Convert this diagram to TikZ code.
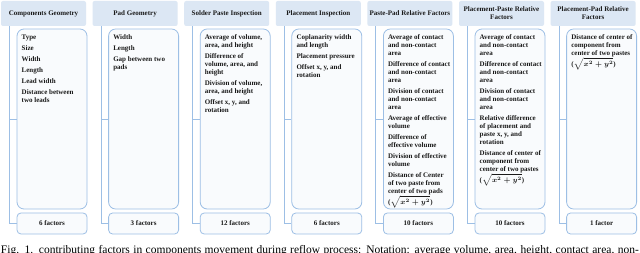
\documentclass[tikz,border=0pt]{standalone}
\usepackage{fontspec}
\setmainfont{Liberation Serif}
\definecolor{hdrfill}{HTML}{DCE7F4}
\definecolor{linec}{HTML}{9DBFE5}
\definecolor{boxfill}{HTML}{F9FBFD}
\definecolor{txt}{HTML}{1A1A1A}
\newcommand\mycol[5]{%
  \node[hdr] (h#1) at (#2+42.5,13.5) {#3};
  \node[cbox] (c#1) at (#2+51,119) {};
  \node[fbox] (f#1) at (#2+51,223.5) {#5};
  \node[ctext] (t#1) at (#2+20.5,33.8) {\rule{0pt}{5.5pt}#4};
  \draw[conn] ([xshift=8.5pt]h#1.south west) |- (c#1.west);
  \draw[conn] ([xshift=8.5pt]h#1.south west) |- (f#1.west);
}
\begin{document}
\begin{tikzpicture}[x=1pt,y=-1pt,
  hdr/.style={fill=hdrfill,rounded corners=2pt,minimum width=85pt,minimum height=25pt,inner sep=0pt,
    align=center,text=txt,font=\fontsize{7}{8}\selectfont\bfseries},
  cbox/.style={draw=linec,fill=boxfill,line width=0.8pt,rounded corners=7pt,minimum width=70pt,minimum height=180pt,inner sep=0pt},
  fbox/.style={draw=linec,fill=boxfill,line width=0.8pt,rounded corners=4pt,minimum width=70pt,minimum height=21pt,inner sep=0pt,
    text=txt,font=\fontsize{7}{8}\selectfont\bfseries},
  ctext/.style={anchor=north west,inner sep=0pt,align=left,text=txt,font=\fontsize{7}{8}\selectfont\bfseries},
  conn/.style={draw=linec,line width=0.8pt},
  capt/.style={anchor=base,inner sep=0pt,font=\fontsize{11.5}{13}\selectfont}
]
\useasboundingbox (0,0) rectangle (640,253);
\fill[white] (0,0) rectangle (640,253);
\mycol{1}{1}{Components Geometry}{Type\\[3pt]Size\\[3pt]Width\\[3pt]Length\\[3pt]Lead width\\[3pt]Distance between\\two leads}{6 factors}
\mycol{2}{92.6}{Pad Geometry}{Width\\[3pt]Length\\[3pt]Gap between two\\pads}{3 factors}
\mycol{3}{184.2}{Solder Paste Inspection}{Average of volume,\\area, and height\\[3pt]Difference of\\volume, area, and\\height\\[3pt]Division of volume,\\area, and height\\[3pt]Offset x, y, and\\rotation}{12 factors}
\mycol{4}{275.8}{Placement Inspection}{Coplanarity width\\and length\\[3pt]Placement pressure\\[3pt]Offset x, y, and\\rotation}{6 factors}
\mycol{5}{367.4}{Paste-Pad Relative Factors}{Average of contact\\and non-contact\\area\\[3pt]Difference of contact\\and non-contact\\area\\[3pt]Division of contact\\and non-contact\\area\\[3pt]Average of effective\\volume\\[3pt]Difference of\\effective volume\\[3pt]Division of effective\\volume\\[3pt]Distance of Center\\of two paste from\\center of two pads\\({\boldmath$\sqrt{x^2+y^2}$})}{10 factors}
\mycol{6}{459}{Placement-Paste Relative\\Factors}{Average of contact\\and non-contact\\area\\[3pt]Difference of contact\\and non-contact\\area\\[3pt]Division of contact\\and non-contact\\area\\[3pt]Relative difference\\of placement and\\paste x, y, and\\rotation\\[3pt]Distance of center of\\component from\\center of two pastes\\({\boldmath$\sqrt{x^2+y^2}$})}{10 factors}
\mycol{7}{550.6}{Placement-Pad Relative\\Factors}{Distance of center of\\component from\\center of two pastes\\({\boldmath$\sqrt{x^2+y^2}$})}{1 factor}
\node[capt] (cap) at (320,253.5) {\makebox[638pt][s]{Fig. 1. contributing factors in components movement during reflow process: Notation: average volume, area, height, contact area, non-}};
\end{tikzpicture}
\end{document}
